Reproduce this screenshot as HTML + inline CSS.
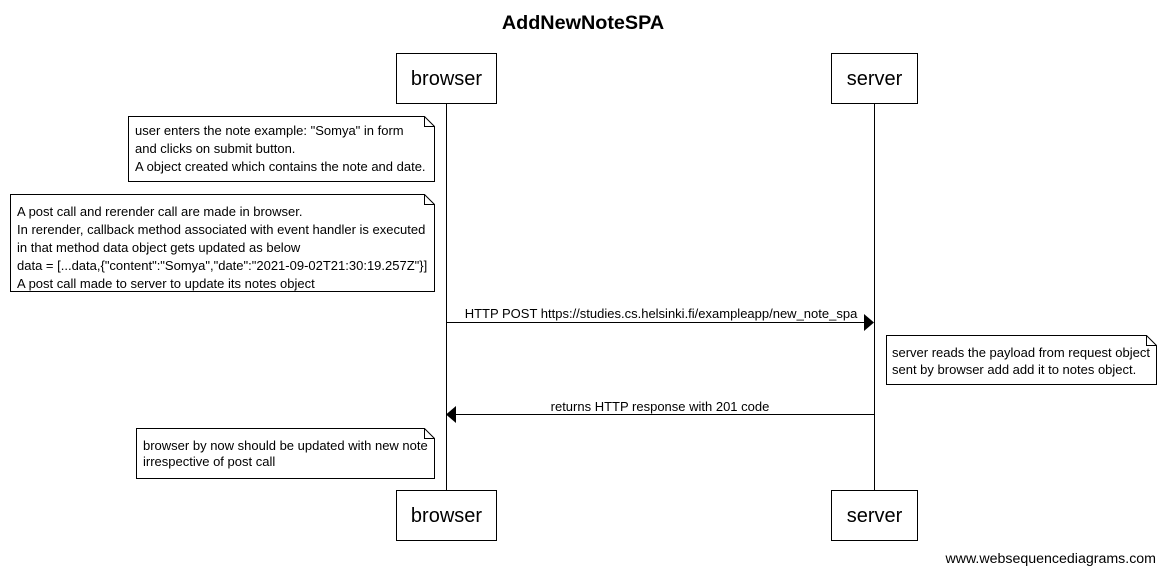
<!DOCTYPE html>
<html><head><meta charset="utf-8"><style>
html,body{margin:0;padding:0;background:#fff;}
svg{display:block;font-family:"Liberation Sans",Arial,sans-serif;}
</style></head><body>
<svg width="1165" height="573" viewBox="0 0 1165 573" xmlns="http://www.w3.org/2000/svg">
<rect width="1165" height="573" fill="#fff"/>
<text x="583" y="29" font-size="19.8" font-weight="bold" text-anchor="middle">AddNewNoteSPA</text>
<g stroke="#000" stroke-width="1" fill="#fff">
<line x1="446.5" y1="103" x2="446.5" y2="490"/>
<line x1="874.5" y1="103" x2="874.5" y2="490"/>
<rect x="396.5" y="53.5" width="100" height="50"/>
<rect x="831.5" y="53.5" width="86" height="50"/>
<rect x="396.5" y="490.5" width="100" height="50"/>
<rect x="831.5" y="490.5" width="86" height="50"/>
<path d="M128.5 116.5 H424.5 L434.5 126.5 V181.5 H128.5 Z M424.5 116.5 V126.5 H434.5"/>
<path d="M10.5 194.5 H424.5 L434.5 204.5 V291.5 H10.5 Z M424.5 194.5 V204.5 H434.5"/>
<path d="M886.5 335.5 H1146.5 L1156.5 345.5 V384.5 H886.5 Z M1146.5 335.5 V345.5 H1156.5"/>
<path d="M136.5 428.5 H424.5 L434.5 438.5 V478.5 H136.5 Z M424.5 428.5 V438.5 H434.5"/>
<line x1="446" y1="322.5" x2="866" y2="322.5"/>
<line x1="456" y1="414.5" x2="874" y2="414.5"/>
</g>
<polygon points="864,314 874,322.5 864,331" fill="#000"/>
<polygon points="456,406 446,414.5 456,423" fill="#000"/>
<g font-size="20" text-anchor="middle">
<text x="446.5" y="85">browser</text>
<text x="874.5" y="85">server</text>
<text x="446.5" y="522">browser</text>
<text x="874.5" y="522">server</text>
</g>
<g font-size="13">
<text x="135" y="135">user enters the note example: "Somya" in form</text>
<text x="135" y="153">and clicks on submit button.</text>
<text x="135" y="171">A object created which contains the note and date.</text>
<text x="17" y="216">A post call and rerender call are made in browser.</text>
<text x="17" y="234">In rerender, callback method associated with event handler is executed</text>
<text x="17" y="252">in that method data object gets updated as below</text>
<text x="17" y="270">data = [...data,{"content":"Somya","date":"2021-09-02T21:30:19.257Z"}]</text>
<text x="17" y="288">A post call made to server to update its notes object</text>
<text x="661" y="318" text-anchor="middle">HTTP POST https://studies.cs.helsinki.fi/exampleapp/new_note_spa</text>
<text x="892" y="357">server reads the payload from request object</text>
<text x="892" y="374">sent by browser add add it to notes object.</text>
<text x="660" y="411" text-anchor="middle">returns HTTP response with 201 code</text>
<text x="143" y="450">browser by now should be updated with new note</text>
<text x="143" y="466">irrespective of post call</text>
<text x="1156" y="563" text-anchor="end" font-size="14.2">www.websequencediagrams.com</text>
</g>
</svg>
</body></html>
